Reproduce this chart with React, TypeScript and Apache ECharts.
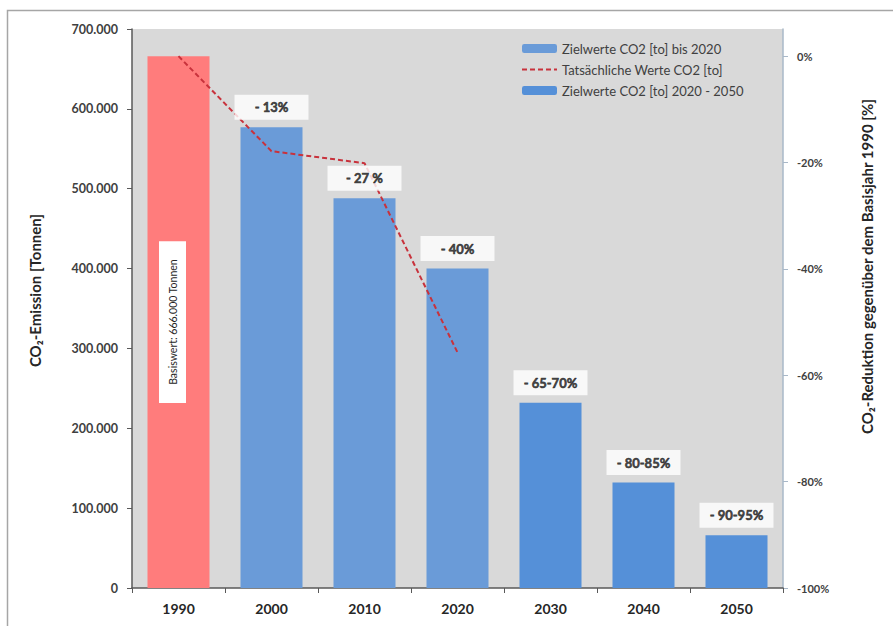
import React, { useEffect, useRef } from "react";
import * as echarts from "echarts";

const years = ["1990", "2000", "2010", "2020", "2030", "2040", "2050"];
const targetUntil2020: (number | null)[] = [666000, 577000, 488000, 400000, null, null, null];
const target2020to2050: (number | null)[] = [null, null, null, null, 232000, 132000, 66000];
const actualValues: (number | null)[] = [666000, 547000, 532000, 295000, null, null, null];
const reductionLabels = ["", "- 13%", "- 27 %", "- 40%", "- 65-70%", "- 80-85%", "- 90-95%"];
const baseLabel = "Basiswert: 666.000 Tonnen";
const percentTicks = [-100, -80, -60, -40, -20, 0];
const seriesNames = ["Zielwerte CO2 [to] bis 2020", "Tatsächliche Werte CO2 [to]", "Zielwerte CO2 [to] 2020 - 2050"];

const FONT = "Lato, 'Open Sans', sans-serif";
const TXT = "#262626";

export default function App() {
  const ref = useRef<HTMLDivElement>(null);
  useEffect(() => {
    if (!ref.current) return;
    const chart = echarts.init(ref.current, null, { renderer: "svg" });
    const dash = (v: number | null) => (v == null ? "-" : v);
    const leftMax = 700000;
    const base = targetUntil2020[0] as number;
    const rightMax = (leftMax / base) * 100 - 100;

    const untilData: any[] = targetUntil2020.map((v, i) =>
      i === 0
        ? {
            value: v,
            itemStyle: { color: "#FF7C7C" },
            label: {
              show: true,
              position: "inside",
              rotate: 90,
              offset: [0, -6],
              formatter: baseLabel,
              backgroundColor: "#FFFFFF",
              padding: [8, 18],
              color: TXT,
              fontSize: 10.5,
              fontFamily: FONT,
            },
          }
        : dash(v)
    );

    const labelData: any[] = years.map((_, i) => {
      const v = targetUntil2020[i] ?? target2020to2050[i];
      return reductionLabels[i] ? v : "-";
    });

    chart.setOption({
      animation: false,
      textStyle: { fontFamily: FONT },
      graphic: [
        {
          type: "rect",
          shape: { x: 7.5, y: 10.5, width: 1000, height: 1000 },
          style: { fill: "none", stroke: "#A6A6A6", lineWidth: 1.5 },
          silent: true,
          z: -10,
        },
      ],
      grid: {
        left: 132,
        right: 110,
        top: 29,
        bottom: 38,
        show: true,
        backgroundColor: "#D9D9D9",
        borderWidth: 0,
      },
      legend: {
        data: [
          { name: seriesNames[0] },
          { name: seriesNames[1], itemStyle: { opacity: 0 } },
          { name: seriesNames[2] },
        ],
        orient: "vertical",
        left: 516,
        top: 37,
        itemWidth: 35,
        itemHeight: 9,
        itemGap: 8,
        textStyle: { color: "#404040", fontSize: 13, fontFamily: FONT },
      },
      xAxis: {
        type: "category",
        data: years,
        axisLine: { lineStyle: { color: "#595959", width: 1.5 } },
        axisTick: { show: true, length: 5, lineStyle: { color: "#595959" } },
        axisLabel: { color: TXT, fontSize: 14, fontWeight: "bold", margin: 13, fontFamily: FONT },
      },
      yAxis: [
        {
          type: "value",
          min: 0,
          max: leftMax,
          interval: 100000,
          name: "CO₂-Emission [Tonnen]",
          nameLocation: "middle",
          nameRotate: 90,
          nameGap: 90,
          nameTextStyle: {
            color: TXT,
            fontSize: 15,
            fontWeight: "bold",
            fontFamily: FONT,
            padding: [0, 0, 0, 36],
          },
          axisLine: { show: true, lineStyle: { color: "#595959", width: 1.5 } },
          axisTick: { show: true, length: 5, lineStyle: { color: "#595959" } },
          splitLine: { show: false },
          axisLabel: {
            color: "#404040",
            fontSize: 12.5,
            fontWeight: "bold",
            margin: 14,
            fontFamily: FONT,
            formatter: (v: number) => (v === 0 ? "0" : `${v / 1000}.000`),
          },
        },
        {
          type: "value",
          position: "right",
          min: -100,
          max: rightMax,
          name: "CO₂-Reduktion gegenüber dem Basisjahr 1990 [%]",
          nameLocation: "middle",
          nameRotate: 90,
          nameGap: 76,
          nameTextStyle: {
            color: TXT,
            fontSize: 15,
            fontWeight: "bold",
            fontFamily: FONT,
            padding: [0, 0, 0, 84],
          },
          axisLine: { show: true, lineStyle: { color: "#A9B8C8", width: 1.5 } },
          axisTick: { show: true, length: 5, customValues: percentTicks, lineStyle: { color: "#A9B8C8" } },
          splitLine: { show: false },
          axisLabel: {
            customValues: percentTicks,
            color: "#404040",
            fontSize: 11,
            fontWeight: "bold",
            margin: 14,
            fontFamily: FONT,
            formatter: (v: number) => `${v}%`,
          },
        },
      ],
      series: [
        {
          name: seriesNames[0],
          type: "bar",
          stack: "co2",
          barWidth: 62,
          itemStyle: { color: "#6A9BD8" },
          data: untilData,
          z: 2,
        },
        {
          name: seriesNames[2],
          type: "bar",
          stack: "co2",
          barWidth: 62,
          itemStyle: { color: "#5590D8" },
          data: target2020to2050.map(dash),
          z: 2,
        },
        {
          name: seriesNames[1],
          type: "line",
          data: actualValues.map(dash),
          symbol: "none",
          showSymbol: false,
          lineStyle: { color: "#C8323C", width: 2, type: [5, 3] },
          itemStyle: { color: "#C8323C" },
          z: 3,
        },
        {
          name: "labels",
          type: "scatter",
          data: labelData,
          symbolSize: 1,
          itemStyle: { color: "rgba(0,0,0,0)" },
          z: 5,
          silent: true,
          label: {
            show: true,
            position: "top",
            distance: 7,
            formatter: (p: any) => `{t|${reductionLabels[p.dataIndex]}}`,
            backgroundColor: "#FFFFFF",
            width: 74,
            align: "center",
            padding: [6, 0],
            rich: {
              t: {
                color: "#1A1A1A",
                fontSize: 13,
                fontWeight: "bold",
                fontFamily: FONT,
                lineHeight: 13,
                textBorderColor: "#1A1A1A",
                textBorderWidth: 0.6,
              },
            },
          },
        },
      ],
    });
    return () => chart.dispose();
  }, []);
  return (
    <div
      ref={ref}
      style={{ position: "fixed", left: 0, top: 0, width: 893, height: 626, background: "#FFFFFF" }}
    />
  );
}
